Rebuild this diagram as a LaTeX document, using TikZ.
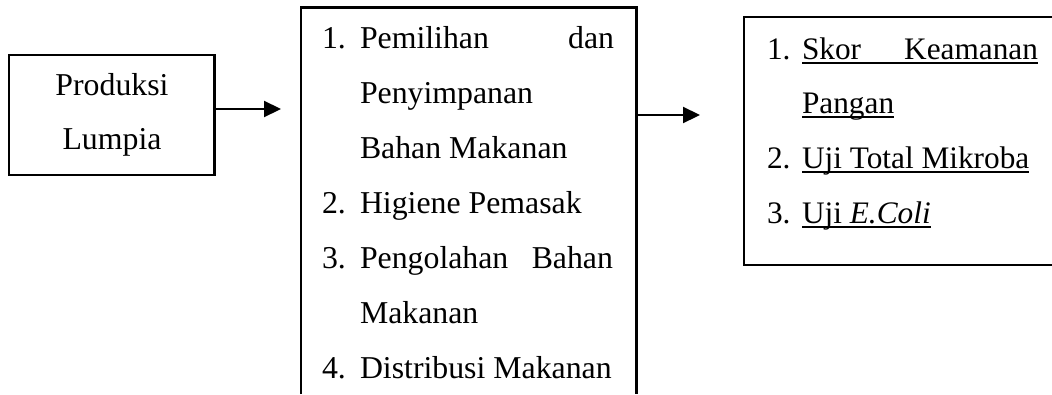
\documentclass[tikz,border=0pt]{standalone}
\usepackage{fontspec}
\setmainfont{Liberation Serif}
\usetikzlibrary{arrows.meta}
\tikzset{
  boxline/.style={line width=2.2pt, line join=miter},
  conn/.style={line width=2.2pt, -{Triangle[length=17pt,width=16pt]}},
  txt/.style={inner sep=0pt, outer sep=0pt, anchor=base west, font=\fontsize{31.8}{38}\selectfont},
  txtc/.style={txt, anchor=base},
  txtr/.style={inner sep=0pt, outer sep=0pt, anchor=base west, font=\fontsize{31.3}{38}\selectfont},
  uline/.style={line width=1.8pt}
}
\begin{document}
\begin{tikzpicture}[x=1pt,y=-1pt]
\useasboundingbox (0,0) rectangle (1052,394);
% Box 1
\draw[boxline] (9,55) rectangle (214.5,175);
\node[txtc] (p1) at (112,95) {Produksi};
\node[txtc] (p2) at (112,149) {Lumpia};
% Box 2
\draw[boxline] (301,394) -- (301,7.5) -- (636.5,7.5) -- (636.5,394);
\node[txt] (n1) at (322,48) {1.};
\node[txt] (a1) at (360,48) {\makebox[254pt][l]{Pemilihan\hfill dan}};
\node[txt] (a2) at (360,103) {Penyimpanan};
\node[txt] (a3) at (360,158) {Bahan Makanan};
\node[txt] (n2) at (322,213) {2.};
\node[txt] (a4) at (360,213) {Higiene Pemasak};
\node[txt] (n3) at (322,268) {3.};
\node[txt] (a5) at (360,268) {\makebox[253pt][l]{Pengolahan\hfill Bahan}};
\node[txt] (a6) at (360,323) {Makanan};
\node[txt] (n4) at (322,378) {4.};
\node[txt] (a7) at (360,378) {Distribusi Makanan};
% Box 3
\draw[boxline] (1052,17) -- (744,17) -- (744,265) -- (1052,265);
\node[txtr] (m1) at (767,59) {1.};
\node[txtr] (b1) at (802,59) {\makebox[236pt][l]{Skor\hfill Keamanan}};
\node[txtr] (b2) at (802,113) {Pangan};
\node[txtr] (m2) at (767,168) {2.};
\node[txtr] (b3) at (802,168) {Uji Total Mikroba};
\node[txtr] (m3) at (767,223) {3.};
\node[txtr] (b4) at (802,223) {Uji \textit{E.Coli}};
\foreach \n in {b1,b2,b3,b4}{
  \draw[uline] ([yshift=-4pt]\n.base west) -- ([yshift=-4pt]\n.base east);
}
% connectors
\coordinate (s1) at (214.5,109);
\coordinate (e1) at (281,109);
\coordinate (s2) at (636.5,115);
\coordinate (e2) at (700,115);
\draw[conn] (s1) -- (e1);
\draw[conn] (s2) -- (e2);
\end{tikzpicture}
\end{document}
